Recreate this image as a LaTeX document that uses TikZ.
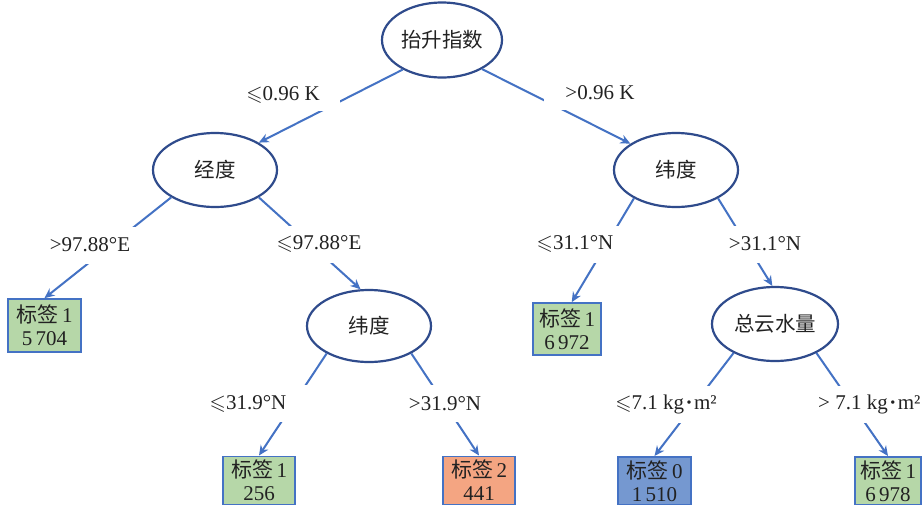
\documentclass[tikz,border=0pt]{standalone}
\usepackage{fontspec}
\usepackage{amssymb}
\setmainfont{Liberation Serif}
\newfontfamily\cjk{Noto Sans CJK SC}
\usetikzlibrary{shapes.geometric,arrows.meta}
\definecolor{ellc}{HTML}{2F4B8C}
\definecolor{edgec}{HTML}{4472C4}
\definecolor{gfill}{HTML}{B6D7A8}
\definecolor{ofill}{HTML}{F4A582}
\definecolor{bfill}{HTML}{7598D0}
\definecolor{txt}{HTML}{222222}
\tikzset{
  dec/.style={ellipse, draw=ellc, line width=2.2pt, fill=white, minimum width=124pt, minimum height=74pt, inner sep=0pt, text=txt, font=\cjk\fontsize{20.5}{23}\selectfont},
  leaf/.style={rectangle, draw=edgec, line width=1.7pt, minimum width=72pt, minimum height=53pt, inner sep=0pt, align=center, text=txt, font=\fontsize{21}{23}\selectfont},
  lowleaf/.style={leaf, minimum height=48pt, anchor=north},
  edge/.style={draw=edgec, line width=2pt, -{Stealth[length=10pt,width=9pt]}},
  lbl/.style={fill=white, inner sep=0pt, minimum height=37pt, text=txt, font=\fontsize{21}{23}\selectfont},
}
\newcommand{\myleq}{$\leqslant$}
\newcommand{\unitkgm}{kg\kern1.5pt\textbf{·}\kern1.5pt m²}
\begin{document}
\begin{tikzpicture}[x=1pt,y=-1pt]
\path[use as bounding box, clip] (0,0) rectangle (922,504);
\fill[white] (0,0) rectangle (922,504);
% decision nodes
\node[dec, minimum width=120pt, minimum height=75pt] (root) at (442,40) {抬升指数};
\node[dec] (jd) at (215,170) {经度};
\node[dec] (wd1) at (676,170) {纬度};
\node[dec, minimum height=72pt] (wd2) at (369,326) {纬度};
\node[dec, minimum width=126pt] (zy) at (775,324) {总云水量};
% leaves
\node[leaf, fill=gfill, minimum width=73pt] (l1) at (44.5,325.5) {{\cjk 标签}\,1\\5\,704};
\node[leaf, fill=gfill, minimum width=68pt, minimum height=52pt] (l2) at (567,329) {{\cjk 标签}\,1\\6\,972};
\node[lowleaf, fill=gfill] (l3) at (259,455.5) {{\cjk 标签}\,1\\256};
\node[lowleaf, fill=ofill] (l4) at (479,455.5) {{\cjk 标签}\,2\\441};
\node[lowleaf, fill=bfill, minimum width=73pt] (l5) at (654.5,456) {{\cjk 标签}\,0\\1\,510};
\node[lowleaf, fill=gfill, minimum width=66pt] (l6) at (888,456) {{\cjk 标签}\,1\\6\,978};
% edges
\draw[edge] (root.-143) -- (jd.32);
\draw[edge] (root.-36) -- (wd1.150);
\draw[edge] (jd.-148) -- (l1.north);
\draw[edge] (jd.-32) -- (wd2.103);
\draw[edge] (wd1.-146) -- (l2.80);
\draw[edge] (wd1.-34) -- (zy.94);
\draw[edge] (wd2.-147) -- (l3.north);
\draw[edge] (wd2.-33) -- (l4.north);
\draw[edge] (zy.-145) -- (l5.north);
\draw[edge] (zy.-35) -- (l6.north);
% edge labels
\node[lbl, minimum width=114pt, minimum height=33pt] (e1) at (283,94.5) {\myleq0.96 K};
\node[lbl, minimum width=112pt, minimum height=35pt] (e2) at (600,92.5) {>0.96 K};
\node[lbl, minimum width=120pt] (e3) at (90,245) {>97.88°E};
\node[lbl, minimum width=100pt] (e4) at (319,244) {\myleq97.88°E};
\node[lbl, minimum width=110pt] (e5) at (575,244) {\myleq31.1°N};
\node[lbl, minimum width=90pt] (e6) at (765,244) {>31.1°N};
\node[lbl, minimum width=120pt] (e7) at (248,403.5) {\myleq31.9°N};
\node[lbl, minimum width=90pt] (e8) at (445,403.5) {>31.9°N};
\node[lbl, minimum width=120pt] (e9) at (666,404.5) {\myleq7.1 \unitkgm};
\node[lbl, anchor=west] (e10) at (818,404.5) {> 7.1 \unitkgm};
\end{tikzpicture}
\end{document}
